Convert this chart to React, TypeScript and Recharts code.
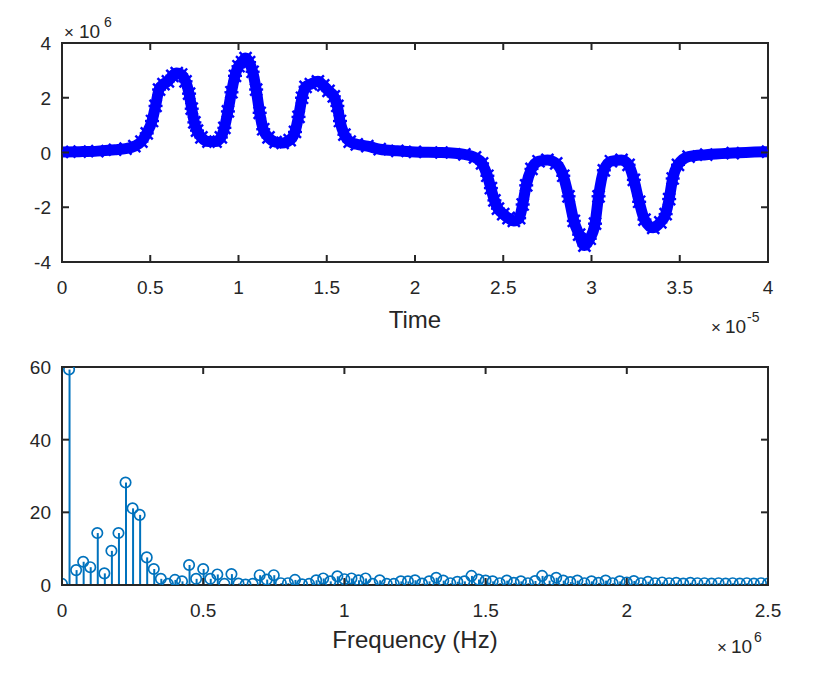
import React from 'react';
import { ComposedChart, Line, XAxis, YAxis, Bar, Scatter } from 'recharts';

// ---- Top plot: time signal (time in units of 1e-5 s, amplitude in units of 1e6)
const TIME = [
  0, 0.1, 0.2, 0.3, 0.36, 0.41, 0.45, 0.48, 0.51, 0.53, 0.55, 0.575, 0.6, 0.625, 0.65, 0.675, 0.7, 0.72, 0.735,
  0.75, 0.765, 0.79, 0.83, 0.87, 0.9, 0.92, 0.94, 0.96, 0.98, 1.0, 1.02, 1.04, 1.06, 1.08, 1.1, 1.12, 1.14, 1.17,
  1.21, 1.25, 1.29, 1.32, 1.34, 1.36, 1.38, 1.41, 1.45, 1.48, 1.51, 1.54, 1.56, 1.575, 1.6, 1.63, 1.67, 1.73, 1.8,
  1.9, 2.0, 2.15, 2.28, 2.34, 2.38, 2.41, 2.43, 2.45, 2.47, 2.5, 2.53, 2.56, 2.59, 2.61, 2.63, 2.66, 2.7, 2.75, 2.8,
  2.84, 2.87, 2.9, 2.93, 2.96, 2.99, 3.02, 3.04, 3.07, 3.11, 3.17, 3.21, 3.24, 3.27, 3.3, 3.35, 3.39, 3.42, 3.44,
  3.46, 3.49, 3.55, 3.65, 3.8, 4.0,
];
const SIGNAL = [
  0.02, 0.03, 0.05, 0.1, 0.14, 0.23, 0.4, 0.7, 1.15, 1.7, 2.3, 2.5, 2.6, 2.8, 2.9, 2.85, 2.6, 2.15, 1.6,
  1.1, 0.8, 0.55, 0.4, 0.4, 0.55, 0.9, 1.5, 2.2, 2.8, 3.15, 3.3, 3.45, 3.3, 2.95, 2.3, 1.45, 0.85, 0.55,
  0.38, 0.35, 0.45, 0.75, 1.3, 2.0, 2.4, 2.5, 2.6, 2.45, 2.25, 2.05, 1.7, 1.15, 0.65, 0.4, 0.3, 0.23, 0.12,
  0.06, 0.02, 0.0, -0.07, -0.18, -0.4, -0.85, -1.3, -1.75, -2.05, -2.25, -2.4, -2.5, -2.4, -1.9, -1.2, -0.6, -0.32, -0.27, -0.4,
  -0.85, -1.6, -2.5, -3.0, -3.4, -3.15, -2.6, -1.6, -0.65, -0.32, -0.27, -0.45, -1.0, -1.8, -2.45, -2.75, -2.55, -2.25, -1.7,
  -0.95, -0.45, -0.15, -0.08, -0.02, 0.03,
];
const TIME_TICKS = [0, 0.5, 1, 1.5, 2, 2.5, 3, 3.5, 4];
const SIGNAL_TICKS = [-4, -2, 0, 2, 4];

// ---- Bottom plot: spectrum magnitude, bins spaced 25 kHz (0.025 x 1e6 Hz)
const FREQ_STEP = 0.025;
const MAG = [
  0.3, 59.3, 4.1, 6.4, 4.9, 14.3, 3.2, 9.4, 14.3, 28.2, 21.1, 19.3, 7.6, 4.4, 1.7, 0.3, 1.4, 1.0, 5.5, 1.7,
  4.4, 1.7, 2.9, 0.3, 3.0, 0.4, 0.1, 0.3, 2.7, 1.5, 2.7, 0.5, 0.5, 1.4, 0.2, 0.3, 1.3, 1.8, 1.0, 2.4,
  1.6, 1.8, 1.3, 1.8, 0.3, 1.3, 0.3, 0.3, 1.0, 1.0, 1.3, 0.4, 1.0, 2.0, 1.2, 0.5, 0.9, 1.0, 2.5, 1.5,
  1.2, 1.0, 0.5, 1.2, 0.6, 1.0, 0.5, 1.1, 2.5, 1.2, 2.0, 1.2, 0.8, 1.2, 0.5, 1.0, 0.6, 1.2, 0.5, 1.0,
  0.7, 1.1, 0.5, 0.9, 0.5, 0.7, 0.5, 0.6, 0.4, 0.6, 0.5, 0.5, 0.4, 0.5, 0.4, 0.5, 0.4, 0.5, 0.4, 0.5,
  0.4,
];
const FREQ_TICKS = [0, 0.5, 1, 1.5, 2, 2.5];
const MAG_TICKS = [0, 20, 40, 60];

const AX = '#262626';
const FONT = '"Liberation Sans", Arial, Helvetica, sans-serif';
const TL = 7;
const BLUE = '#0000FF';
const STEM = '#0072BD';
const TICK_FS = 19;

// Tick components: draw the inward tick mark and (for bottom/left) the label.
const BottomTick = (p: any) => {
  const { x, y, payload } = p;
  return (
    <g>
      <path d={`M${x},${y}V${y - TL}`} stroke={AX} strokeWidth={2} fill="none" />
      <text x={x} y={y + 32} textAnchor="middle" fontSize={TICK_FS} fill={AX} stroke="none" fontFamily={FONT}>
        {String(payload.value)}
      </text>
    </g>
  );
};
const TopTick = (p: any) => {
  const { x, y } = p;
  return <path d={`M${x},${y}V${y + TL}`} stroke={AX} strokeWidth={2} fill="none" />;
};
const LeftTick = (p: any) => {
  const { x, y, payload } = p;
  return (
    <g>
      <path d={`M${x},${y}H${x + TL}`} stroke={AX} strokeWidth={2} fill="none" />
      <text x={x - 11} y={y + 7} textAnchor="end" fontSize={TICK_FS} fill={AX} stroke="none" fontFamily={FONT}>
        {String(payload.value)}
      </text>
    </g>
  );
};
const RightTick = (p: any) => {
  const { x, y } = p;
  return <path d={`M${x},${y}H${x - TL}`} stroke={AX} strokeWidth={2} fill="none" />;
};

const axisLine = { stroke: AX, strokeWidth: 2, strokeLinecap: 'square' as const };

const CrossDot = (p: any) => {
  const { cx, cy } = p;
  if (cx == null || cy == null) return null;
  return (
    <g stroke={BLUE} strokeWidth={2.4}>
      <line x1={cx - 6} y1={cy - 6} x2={cx + 6} y2={cy + 6} />
      <line x1={cx - 6} y1={cy + 6} x2={cx + 6} y2={cy - 6} />
      <line x1={cx - 7} y1={cy} x2={cx + 7} y2={cy} />
    </g>
  );
};

const CircleMark = (p: any) => {
  const { cx, cy } = p;
  if (cx == null || cy == null) return null;
  return <circle cx={cx} cy={cy} r={5.2} fill="none" stroke={STEM} strokeWidth={1.7} />;
};

const timeData = TIME.map((t, i) => ({ t, v: SIGNAL[i] }));
const specData = MAG.map((m, i) => ({ f: i * FREQ_STEP, m }));

const boxAxes = (xKey: string, xDomain: number[], xTicks: number[], yDomain: number[], yTicks: number[], xHeight: number) => [
  <XAxis
    key="xb"
    xAxisId="b"
    dataKey={xKey}
    type="number"
    domain={xDomain}
    ticks={xTicks}
    interval={0}
    height={xHeight}
    tickSize={0}
    tickMargin={0}
    tickLine={false}
    stroke={AX}
    axisLine={axisLine}
    tick={<BottomTick />}
    allowDataOverflow
  />,
  <XAxis
    key="xt"
    xAxisId="t"
    orientation="top"
    dataKey={xKey}
    type="number"
    domain={xDomain}
    ticks={xTicks}
    interval={0}
    height={1}
    tickSize={0}
    tickMargin={0}
    tickLine={false}
    stroke={AX}
    axisLine={axisLine}
    tick={<TopTick />}
    allowDataOverflow
  />,
  <YAxis
    key="yl"
    yAxisId="l"
    type="number"
    domain={yDomain}
    ticks={yTicks}
    interval={0}
    width={62}
    tickSize={0}
    tickMargin={0}
    tickLine={false}
    stroke={AX}
    axisLine={axisLine}
    tick={<LeftTick />}
    allowDataOverflow
  />,
  <YAxis
    key="yr"
    yAxisId="r"
    orientation="right"
    type="number"
    domain={yDomain}
    ticks={yTicks}
    interval={0}
    width={1}
    tickSize={0}
    tickMargin={0}
    tickLine={false}
    stroke={AX}
    axisLine={axisLine}
    tick={<RightTick />}
    allowDataOverflow
  />,
];

export default function App() {
  return (
    <div style={{ position: 'absolute', left: 0, top: 0, width: 817, height: 678, background: '#fff' }}>
      <div style={{ position: 'absolute', left: 0, top: 0 }}>
        <ComposedChart width={817} height={340} data={timeData} margin={{ top: 42, right: 48, left: 0, bottom: 0 }}>
          {boxAxes('t', [0, 4], TIME_TICKS, [-4, 4], SIGNAL_TICKS, 78)}
          <Line
            xAxisId="b"
            yAxisId="l"
            type="monotone"
            dataKey="v"
            stroke={BLUE}
            strokeWidth={11}
            strokeLinejoin="round"
            dot={<CrossDot />}
            activeDot={false}
            isAnimationActive={false}
          />
        </ComposedChart>
      </div>
      <div style={{ position: 'absolute', left: 0, top: 340 }}>
        <ComposedChart width={817} height={338} data={specData} margin={{ top: 26, right: 48, left: 0, bottom: 0 }}>
          {boxAxes('f', [0, 2.5], FREQ_TICKS, [0, 60], MAG_TICKS, 93)}
          <Bar xAxisId="b" yAxisId="l" dataKey="m" barSize={2} fill={STEM} isAnimationActive={false} />
          <Scatter xAxisId="b" yAxisId="l" dataKey="m" shape={<CircleMark />} isAnimationActive={false} />
        </ComposedChart>
      </div>
      <svg width={817} height={678} style={{ position: 'absolute', left: 0, top: 0, pointerEvents: 'none' }}>
        <g fontFamily={FONT} fill={AX}>
          <text x={64} y={38} fontSize={17}>×</text>
          <text x={79} y={38} fontSize={19}>10</text>
          <text x={104} y={27} fontSize={14}>6</text>
          <text x={415} y={328} fontSize={24} textAnchor="middle">Time</text>
          <text x={711} y={333} fontSize={17}>×</text>
          <text x={725} y={333} fontSize={19}>10</text>
          <text x={747} y={322} fontSize={14}>-5</text>
          <text x={415} y={648} fontSize={24} textAnchor="middle">Frequency (Hz)</text>
          <text x={717} y={653} fontSize={17}>×</text>
          <text x={731} y={653} fontSize={19}>10</text>
          <text x={754} y={642} fontSize={14}>6</text>
        </g>
      </svg>
    </div>
  );
}
